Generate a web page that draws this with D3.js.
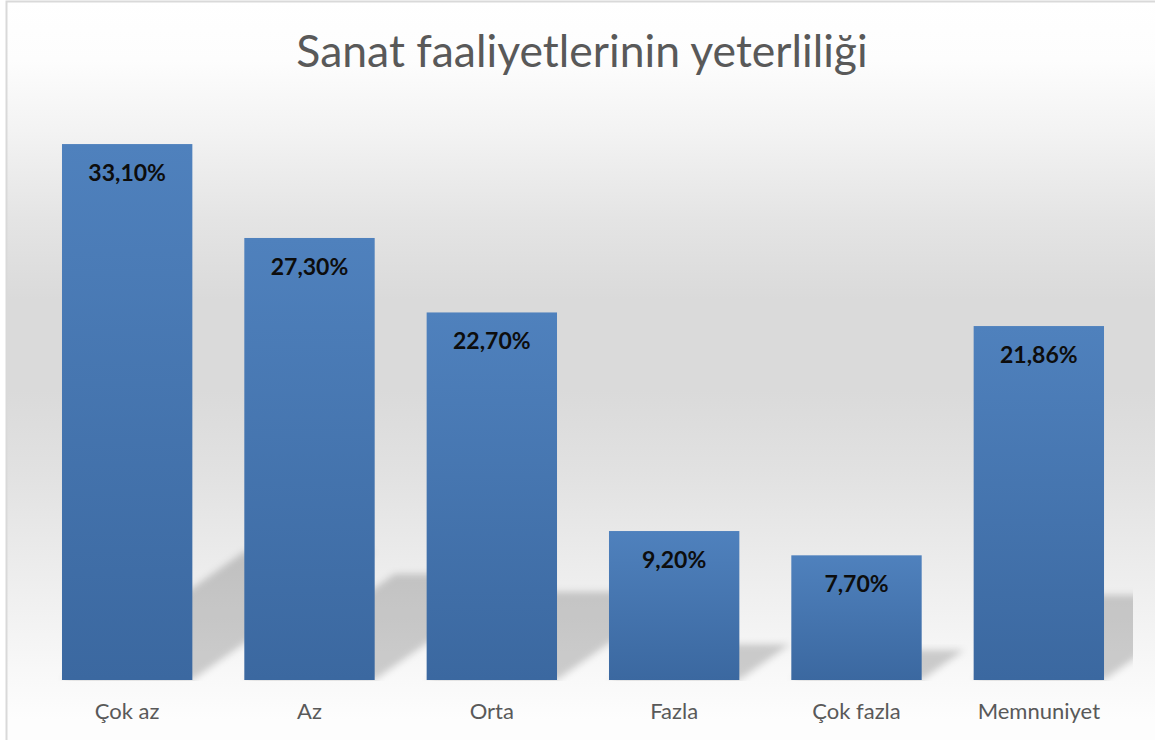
<!DOCTYPE html>
<html>
<head>
<meta charset="utf-8">
<script src="https://cdn.jsdelivr.net/npm/d3@7"></script>
<style>
  body { margin: 0; background: #fff; }
  svg { display: block; }
</style>
</head>
<body>
<script>
// chart data
var categories = ["Çok az", "Az", "Orta", "Fazla", "Çok fazla", "Memnuniyet"];
var values = [33.10, 27.30, 22.70, 9.20, 7.70, 21.86];
var title = "Sanat faaliyetlerinin yeterliliği";

var W = 1155, H = 740;
var base = 680; // bottom of the bars

var svg = d3.select("body").append("svg")
  .attr("width", W)
  .attr("height", H);

var defs = svg.append("defs");

// grey background, light at top and bottom, darker in the middle
var bg = defs.append("linearGradient")
  .attr("id", "bg")
  .attr("gradientUnits", "userSpaceOnUse")
  .attr("x1", 0).attr("y1", 0).attr("x2", 0).attr("y2", H);
[[0, "#ffffff"], [60, "#fdfdfd"], [130, "#f3f3f3"], [220, "#e4e4e4"], [300, "#dadada"],
 [390, "#dadada"], [470, "#e1e1e1"], [600, "#f0f0f0"], [670, "#f8f8f8"], [720, "#fdfdfd"]]
  .forEach(function(s) {
    bg.append("stop").attr("offset", s[0] / H).attr("stop-color", s[1]);
  });

// bar fill
var barGrad = defs.append("linearGradient")
  .attr("id", "bar")
  .attr("x1", 0).attr("y1", 0).attr("x2", 0).attr("y2", 1);
barGrad.append("stop").attr("offset", 0).attr("stop-color", "#4f81bd");
barGrad.append("stop").attr("offset", 1).attr("stop-color", "#3b68a0");

defs.append("filter")
  .attr("id", "blur")
  .attr("x", "-20%").attr("y", "-20%").attr("width", "140%").attr("height", "140%")
  .append("feGaussianBlur").attr("stdDeviation", 3.5);

defs.append("clipPath").attr("id", "plotClip")
  .append("rect").attr("x", 20).attr("y", 90).attr("width", 1113).attr("height", base + 1 - 90);

// chart area with border
svg.append("rect")
  .attr("x", 6.5).attr("y", 1.5)
  .attr("width", W + 10).attr("height", H + 10)
  .attr("fill", "url(#bg)")
  .attr("stroke", "#d9d9d9")
  .attr("stroke-width", 2);

// scales
var x = d3.scaleBand()
  .domain(categories)
  .range([36, 1130])
  .paddingInner(0.285)
  .paddingOuter(0.1425);

var y = d3.scaleLinear()
  .domain([0, 35])
  .range([base, 113.3]);

var data = categories.map(function(c, i) { return { cat: c, val: values[i] }; });

// perspective shadows cast up and to the right
var k = 0.24, s = 0.34;
svg.append("g")
  .attr("clip-path", "url(#plotClip)")
  .selectAll("path")
  .data(data)
  .enter().append("path")
  .attr("d", function(d) {
    var h = base - y(d.val);
    var x0 = x(d.cat), x1 = x(d.cat) + x.bandwidth();
    return "M" + x0 + "," + base + "L" + x1 + "," + base +
      "L" + (x1 + s * h) + "," + (base - k * h) +
      "L" + (x0 + s * h) + "," + (base - k * h) + "Z";
  })
  .attr("fill", "#000")
  .attr("fill-opacity", 0.18)
  .attr("filter", "url(#blur)");

// bars
svg.append("g")
  .selectAll("rect")
  .data(data)
  .enter().append("rect")
  .attr("x", function(d) { return x(d.cat); })
  .attr("y", function(d) { return y(d.val); })
  .attr("width", x.bandwidth())
  .attr("height", function(d) { return base - y(d.val); })
  .attr("fill", "url(#bar)");

// value labels, Turkish decimal comma
var tr = d3.formatLocale({ decimal: ",", thousands: ".", grouping: [3], currency: ["", " TL"] });
var fmt = tr.format(".2f");

svg.append("g")
  .selectAll("text")
  .data(data)
  .enter().append("text")
  .attr("x", function(d) { return x(d.cat) + x.bandwidth() / 2; })
  .attr("y", function(d) { return y(d.val) + 37; })
  .attr("text-anchor", "middle")
  .style("font-family", "Lato, 'Open Sans', sans-serif")
  .style("font-weight", "bold")
  .style("font-size", "23px")
  .style("fill", "#0d0d0d")
  .text(function(d) { return fmt(d.val) + "%"; });

// category axis
var xAxis = svg.append("g")
  .attr("transform", "translate(0," + base + ")")
  .call(d3.axisBottom(x).tickSize(0).tickPadding(23));
xAxis.select(".domain").remove();
xAxis.selectAll("text")
  .style("font-family", "Lato, 'Open Sans', sans-serif")
  .style("font-size", "22px")
  .style("fill", "#595959");

// title
svg.append("text")
  .attr("x", 582)
  .attr("y", 67)
  .attr("text-anchor", "middle")
  .style("font-family", "Lato, 'Open Sans', sans-serif")
  .style("font-size", "44.5px")
  .style("fill", "#595959")
  .text(title);
</script>
</body>
</html>
